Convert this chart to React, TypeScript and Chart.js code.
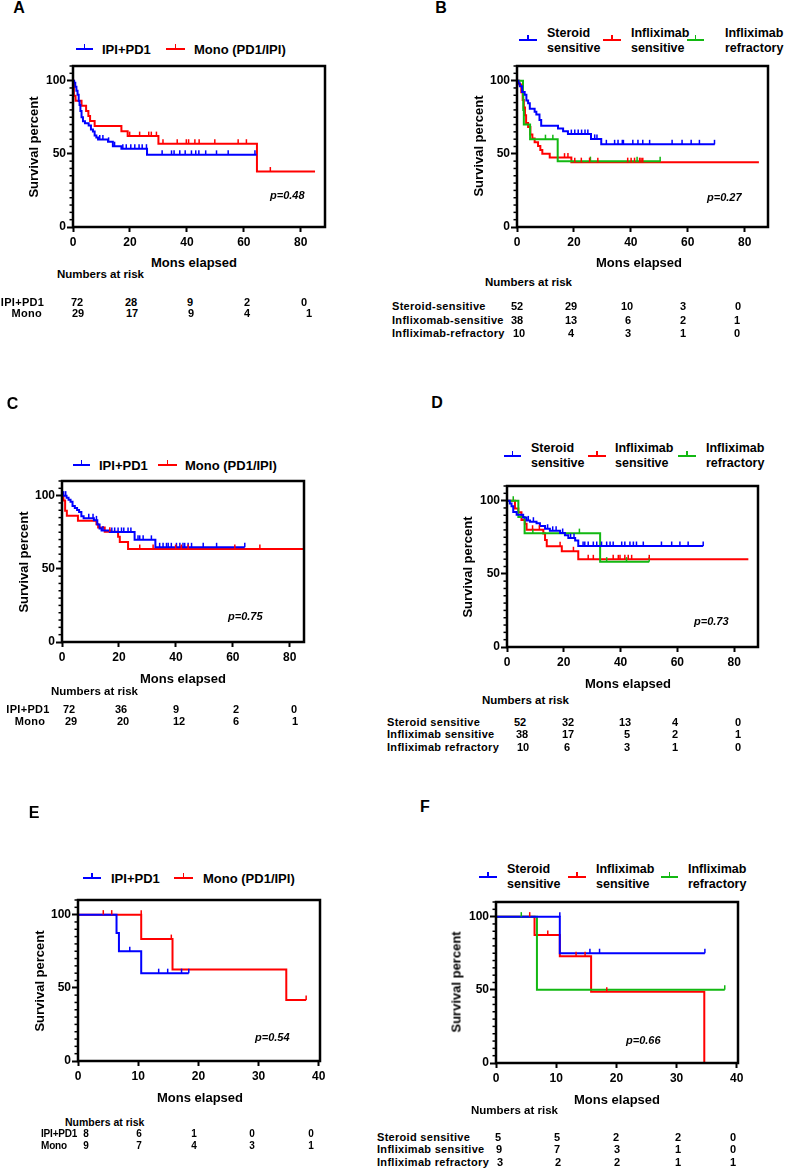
import React, { useEffect, useRef } from 'react';
import { Chart, registerables } from 'chart.js';
Chart.register(...registerables);

const FONT = '"Liberation Sans", Arial, Helvetica, sans-serif';
const BLUE = '#0000FF';
const RED = '#FF0000';
const GREEN = '#12B812';

// ---------- Panel A (all irAE, IPI+PD1 vs Mono) ----------
const aIpiT = [0, 0.4, 0.8, 1.2, 1.6, 2.0, 2.3, 2.6, 3.0, 3.5, 4.2, 5.5, 6.3, 7.0, 7.6, 8.2, 8.8, 12.3, 14.0, 17.0, 26.0, 64.5];
const aIpiS = [100, 98.6, 95.8, 93.1, 90.3, 86.1, 83.3, 79.2, 75.0, 72.2, 70.8, 69.4, 66.7, 65.3, 62.5, 61.1, 59.7, 58.2, 55.2, 53.5, 49.3, 49.3];
const aIpiC = [9.4, 10.5, 12.5, 14.6, 17.5, 18.7, 20.3, 21.7, 23.2, 24.3, 25.8, 31.3, 34.6, 35.5, 37.5, 39.4, 41.6, 43.1, 44.2, 46.6, 50.4, 54.5, 63.9];
const aMonoT = [0, 0.3, 0.9, 3.0, 4.6, 5.4, 6.0, 7.6, 17.0, 19.2, 30.0, 64.6, 85];
const aMonoS = [100, 89.7, 86.2, 82.8, 79.3, 75.9, 72.4, 69.0, 65.5, 62.1, 56.9, 37.9, 37.9];
const aMonoC = [19.9, 23.4, 26.6, 27.5, 29.3, 31.6, 36.6, 39.8, 40.6, 42.8, 44.3, 49.8, 58.0, 60.9, 69.3];
const aRiskIpi = [72, 28, 9, 2, 0];
const aRiskMono = [29, 17, 9, 4, 1];

// ---------- Panel B ----------
const bSterT = [0, 0.5, 1.0, 1.8, 2.7, 3.3, 3.9, 4.5, 6.2, 6.8, 7.9, 8.5, 14.4, 16.2, 17.9, 26.0, 29.6, 69.5];
const bSterS = [100, 98.1, 96.2, 92.3, 90.4, 86.5, 84.6, 80.8, 78.8, 76.9, 73.1, 69.2, 67.3, 65.4, 63.5, 60.2, 56.5, 56.5];
const bSterC = [19.1, 20.3, 21.5, 22.7, 23.9, 24.9, 27.3, 28.1, 31.4, 34.3, 35.5, 37.0, 37.4, 40.7, 42.5, 44.2, 46.6, 54.5, 58.0, 61.2, 64.1, 69.4];
const bInfT = [0, 0.8, 1.5, 2.0, 2.4, 2.8, 3.2, 3.9, 4.7, 5.4, 6.2, 7.4, 8.2, 8.9, 11.5, 19.1, 85];
const bInfS = [100, 97.4, 92.1, 86.8, 81.6, 76.3, 71.1, 68.4, 63.2, 60.5, 57.9, 55.3, 52.6, 50.0, 47.4, 44.3, 44.3];
const bInfC = [16.7, 17.9, 20.3, 22.6, 25.5, 28.4, 38.9, 40.1, 41.3, 43.1, 43.6, 44.2];
const bRefT = [0, 2.1, 2.2, 2.4, 4.6, 14.3, 50.5];
const bRefS = [100, 90, 80, 70, 60, 45, 45];
const bRefC = [10.0, 12.6, 25.8, 42.2, 50.3];
const bRiskSter = [52, 29, 10, 3, 0];
const bRiskInf = [38, 13, 6, 2, 1];
const bRiskRef = [10, 4, 3, 1, 0];

// ---------- Panel C ----------
const cIpiT = [0, 1.6, 2.3, 3.0, 3.7, 4.5, 5.3, 6.0, 6.8, 7.6, 11.2, 12.4, 13.2, 13.9, 16.8, 25.5, 32.8, 64.2];
const cIpiS = [100, 98.6, 97.2, 95.8, 93.0, 91.6, 90.2, 88.8, 86.0, 84.5, 83.1, 80.3, 77.5, 76.1, 75.2, 69.8, 64.7, 64.7];
const cIpiC = [0.6, 1.3, 9.4, 10.9, 12.1, 14.4, 17.5, 18.5, 19.7, 20.9, 21.7, 23.2, 24.2, 26.7, 27.3, 28.5, 31.4, 34.3, 35.5, 36.7, 37.3, 38.4, 40.2, 41.4, 42.5, 43.1, 44.3, 45.5, 49.6, 54.3, 64.2];
const cMonoT = [0, 0.5, 1.1, 1.7, 5.6, 12.1, 12.7, 15.0, 19.7, 20.3, 23.2, 85];
const cMonoS = [100, 96.6, 89.7, 86.2, 82.8, 80.5, 78.2, 75.3, 71.9, 68.4, 63.5, 63.5];
const cMonoC = [16.8, 27.3, 32.0, 39.9, 41.9, 44.3, 60.7, 69.5];
const cRiskIpi = [72, 36, 9, 2, 0];
const cRiskMono = [29, 20, 12, 6, 1];

// ---------- Panel D ----------
const dSterT = [0, 1.0, 1.6, 2.2, 3.4, 5.7, 6.9, 8.1, 10.4, 11.6, 13.4, 15.1, 18.7, 20.4, 21.6, 24.0, 25.1, 69.1];
const dSterS = [100, 98.1, 96.2, 92.3, 90.4, 88.5, 86.5, 85.6, 84.6, 82.7, 80.8, 79.4, 77.9, 76.3, 74.4, 72.8, 69.0, 69.0];
const dSterC = [7.5, 9.3, 14.3, 16.1, 17.3, 19.6, 22.4, 23.6, 26.8, 27.4, 28.6, 30.4, 31.6, 33.3, 35.1, 36.3, 37.4, 40.4, 41.5, 43.3, 44.5, 45.6, 48.0, 54.4, 58.0, 60.9, 63.8, 69.1];
const dInfT = [0, 2.8, 4.0, 5.1, 6.3, 6.9, 12.8, 13.4, 14.0, 19.3, 25.1, 85];
const dInfS = [100, 94.7, 92.1, 86.8, 84.2, 80.1, 77.5, 73.1, 68.8, 65.4, 59.9, 59.9];
const dInfC = [9.0, 11.4, 18.7, 23.4, 28.6, 30.4, 37.4, 39.2, 39.8, 41.5, 42.7, 43.9, 50.1];
const dRefT = [0, 4.0, 6.2, 32.8, 50.1];
const dRefS = [100, 88.9, 77.8, 58.3, 58.3];
const dRefC = [2.2, 9.1, 25.5, 35.1, 42.1, 50.1];
const dRiskSter = [52, 32, 13, 4, 0];
const dRiskInf = [38, 17, 5, 2, 1];
const dRiskRef = [10, 6, 3, 1, 0];

// ---------- Panel E ----------
const eIpiT = [0, 6.4, 6.8, 10.5, 18.4];
const eIpiS = [100, 87.5, 75, 60, 60];
const eIpiC = [8.6, 13.4, 14.9, 17.2, 18.4];
const eMonoT = [0, 10.5, 15.7, 34.6, 37.9];
const eMonoS = [100, 83.3, 62.5, 41.7, 41.7];
const eMonoC = [4.2, 5.6, 10.5, 15.5, 37.9];
const eRiskIpi = [8, 6, 1, 0, 0];
const eRiskMono = [9, 7, 4, 3, 1];

// ---------- Panel F ----------
const fSterT = [0, 10.6, 34.7];
const fSterS = [100, 75, 75];
const fSterC = [10.6, 15.6, 17.2, 34.7];
const fInfT = [0, 6.4, 10.6, 15.8, 34.6];
const fInfS = [100, 87.5, 72.9, 48.6, 0];
const fInfC = [5.6, 8.6, 13.3, 14.8, 18.4];
const fRefT = [0, 6.8, 38.0];
const fRefS = [100, 50, 50];
const fRefC = [4.2, 38.0];
const fRiskSter = [5, 5, 2, 2, 0];
const fRiskInf = [9, 7, 3, 1, 0];
const fRiskRef = [3, 2, 2, 1, 1];

const xTicksLong = [0, 20, 40, 60, 80];
const xTicksShort = [0, 10, 20, 30, 40];
const yTicks = [0, 50, 100];
const Y_MAX = 110;

type Series = { t: number[]; s: number[]; c: number[]; color: string };

const YW = 50, PADT = 10, PADR = 12, XH = 26;

function survAt(se: Series, t: number) {
  let v = se.s[0];
  for (let i = 0; i < se.t.length; i++) if (se.t[i] < t) v = se.s[i];
  return v;
}

function KMChart(props: { L: number; T: number; W: number; H: number; xmax: number; xticks: number[]; series: Series[] }) {
  const { L, T, W, H, xmax, xticks, series } = props;
  const ref = useRef<HTMLCanvasElement>(null);
  const cw = YW + W + PADR, ch = PADT + H + XH;
  useEffect(() => {
    const plugin = {
      id: 'km',
      afterDatasetsDraw(chart: any) {
        const { ctx, scales } = chart;
        const x = scales.x, y = scales.y;
        ctx.save();
        ctx.lineWidth = 1.5;
        series.forEach((se) => {
          ctx.strokeStyle = se.color;
          se.c.forEach((c) => {
            const px = x.getPixelForValue(c);
            const py = y.getPixelForValue(survAt(se, c));
            ctx.beginPath();
            ctx.moveTo(px, py);
            ctx.lineTo(px, py - 4.5);
            ctx.stroke();
          });
        });
        ctx.restore();
      },
      afterDraw(chart: any) {
        const { ctx, chartArea: ca, scales } = chart;
        const y = scales.y;
        ctx.save();
        ctx.strokeStyle = '#000';
        ctx.lineWidth = 1.5;
        for (let v = 5; v <= Y_MAX; v += 5) {
          if (v % 50 === 0) continue;
          const py = y.getPixelForValue(v);
          ctx.beginPath();
          ctx.moveTo(ca.left - 3.5, py);
          ctx.lineTo(ca.left, py);
          ctx.stroke();
        }
        ctx.lineWidth = 2.5;
        ctx.strokeRect(ca.left, ca.top, ca.right - ca.left, ca.bottom - ca.top);
        ctx.restore();
      },
    };
    const tickFont = { family: FONT, size: 12, weight: 'bold' as const };
    const chart = new Chart(ref.current as HTMLCanvasElement, {
      type: 'line',
      data: {
        datasets: series.map((se) => ({
          data: se.t.map((tv, i) => ({ x: tv, y: se.s[i] })),
          borderColor: se.color,
          backgroundColor: se.color,
          borderWidth: 2,
          stepped: true,
          pointRadius: 0,
          fill: false,
        })),
      },
      options: {
        responsive: false,
        animation: false,
        devicePixelRatio: 1,
        layout: { padding: { left: 0, top: PADT, right: PADR, bottom: 0 } },
        plugins: { legend: { display: false }, tooltip: { enabled: false } },
        scales: {
          x: {
            type: 'linear',
            min: 0,
            max: xmax,
            afterBuildTicks: (sc: any) => { sc.ticks = xticks.map((v) => ({ value: v })); },
            afterFit: (sc: any) => { sc.height = XH; },
            grid: { display: true, drawOnChartArea: false, drawTicks: true, tickLength: 5, tickWidth: 2, tickColor: '#000' },
            border: { display: false },
            ticks: { font: tickFont, color: '#000', padding: 3, maxRotation: 0, autoSkip: false },
          },
          y: {
            type: 'linear',
            min: 0,
            max: Y_MAX,
            afterBuildTicks: (sc: any) => { sc.ticks = yTicks.map((v) => ({ value: v })); },
            afterFit: (sc: any) => { sc.width = YW; },
            grid: { display: true, drawOnChartArea: false, drawTicks: true, tickLength: 6, tickWidth: 2, tickColor: '#000' },
            border: { display: false },
            ticks: { font: tickFont, color: '#000', padding: 1 },
          },
        },
      } as any,
      plugins: [plugin],
    });
    return () => chart.destroy();
  }, []);
  return (
    <canvas
      ref={ref}
      width={cw}
      height={ch}
      style={{ position: 'absolute', left: L - YW, top: T - PADT, width: cw, height: ch }}
    />
  );
}

type TxtProps = { x: number; y: number; text: string; size: number; align?: 'left' | 'center' | 'right'; italic?: boolean; rotate?: boolean; spacing?: number };
function Txt({ x, y, text, size, align = 'left', italic = false, rotate = false, spacing = 0 }: TxtProps) {
  const tx = align === 'center' ? '-50%' : align === 'right' ? '-100%' : '0';
  return (
    <div
      style={{
        position: 'absolute',
        left: x,
        top: y,
        transform: `translate(${tx}, -50%)` + (rotate ? ' rotate(-90deg)' : ''),
        transformOrigin: rotate ? '50% 50%' : undefined,
        font: `${italic ? 'italic ' : ''}bold ${size}px ${FONT}`,
        lineHeight: 1,
        whiteSpace: 'nowrap',
        color: '#000',
        letterSpacing: spacing,
      }}
    >
      {text}
    </div>
  );
}

function LegLine({ x1, x2, y, color }: { x1: number; x2: number; y: number; color: string }) {
  const mid = (x1 + x2) / 2;
  return (
    <>
      <div style={{ position: 'absolute', left: x1, top: y - 1, width: x2 - x1, height: 2, background: color }} />
      <div style={{ position: 'absolute', left: mid - 0.75, top: y - 5, width: 1.5, height: 4, background: color }} />
    </>
  );
}

function RiskRow({ label, lx, ly, lalign, values, xs, size, spacing }: { label: string; lx: number; ly: number; lalign: 'left' | 'center'; values: number[]; xs: number[]; size: number; spacing: number }) {
  return (
    <>
      <Txt x={lx} y={ly} text={label} size={size} align={lalign} spacing={spacing} />
      {values.map((v, i) => (
        <Txt key={i} x={xs[i]} y={ly} text={String(v)} size={size} align="center" />
      ))}
    </>
  );
}

const LEG3 = 12.5;

export default function App() {
  return (
    <div style={{ position: 'absolute', left: 0, top: 0, width: 787, height: 1168, overflow: 'hidden', background: '#fff' }}>
      {/* ---------------- A ---------------- */}
      <Txt x={19} y={8} text="A" size={16} align="center" />
      <LegLine x1={76} x2={93} y={49} color={BLUE} />
      <Txt x={102} y={49} text="IPI+PD1" size={13} />
      <LegLine x1={166} x2={185} y={49} color={RED} />
      <Txt x={194} y={49} text="Mono (PD1/IPI)" size={13} />
      <KMChart L={73} T={66} W={252} H={161} xmax={88.5} xticks={xTicksLong}
        series={[{ t: aIpiT, s: aIpiS, c: aIpiC, color: BLUE }, { t: aMonoT, s: aMonoS, c: aMonoC, color: RED }]} />
      <Txt x={33} y={147} text="Survival percent" size={13} align="center" rotate />
      <Txt x={270} y={195} text="p=0.48" size={11} italic />
      <Txt x={194} y={262} text="Mons elapsed" size={13} align="center" />
      <Txt x={57} y={275} text="Numbers at risk" size={11.5} />
      <RiskRow label="IPI+PD1" lx={22.5} ly={302} lalign="center" values={aRiskIpi} xs={[77, 131, 190, 247, 304]} size={11} spacing={0.3} />
      <RiskRow label="Mono" lx={26.7} ly={313} lalign="center" values={aRiskMono} xs={[78, 132, 191, 247, 309]} size={11} spacing={0.3} />

      {/* ---------------- B ---------------- */}
      <Txt x={441} y={8} text="B" size={16} align="center" />
      <LegLine x1={519} x2={537} y={40} color={BLUE} />
      <Txt x={547} y={33} text="Steroid" size={LEG3} />
      <Txt x={547} y={48} text="sensitive" size={LEG3} />
      <LegLine x1={603} x2={621} y={40} color={RED} />
      <Txt x={631} y={33} text="Infliximab" size={LEG3} />
      <Txt x={631} y={48} text="sensitive" size={LEG3} />
      <LegLine x1={687} x2={704} y={40} color={GREEN} />
      <Txt x={725} y={33} text="Infliximab" size={LEG3} />
      <Txt x={725} y={48} text="refractory" size={LEG3} />
      <KMChart L={517} T={66} W={251} H={161} xmax={88.2} xticks={xTicksLong}
        series={[{ t: bSterT, s: bSterS, c: bSterC, color: BLUE }, { t: bRefT, s: bRefS, c: bRefC, color: GREEN }, { t: bInfT, s: bInfS, c: bInfC, color: RED }]} />
      <Txt x={478} y={146} text="Survival percent" size={13} align="center" rotate />
      <Txt x={707} y={197} text="p=0.27" size={11} italic />
      <Txt x={639} y={262} text="Mons elapsed" size={13} align="center" />
      <Txt x={485} y={283} text="Numbers at risk" size={11.5} />
      <RiskRow label="Steroid-sensitive" lx={392} ly={306} lalign="left" values={bRiskSter} xs={[517, 571, 627, 683, 738]} size={11} spacing={0.3} />
      <RiskRow label="Inflixomab-sensitive" lx={392} ly={320} lalign="left" values={bRiskInf} xs={[517, 571, 628, 683, 737]} size={11} spacing={0.3} />
      <RiskRow label="Infliximab-refractory" lx={392} ly={333} lalign="left" values={bRiskRef} xs={[519, 571, 628, 683, 737]} size={11} spacing={0.3} />

      {/* ---------------- C ---------------- */}
      <Txt x={12.5} y={404} text="C" size={16} align="center" />
      <LegLine x1={73} x2={90} y={465} color={BLUE} />
      <Txt x={99} y={465} text="IPI+PD1" size={13} />
      <LegLine x1={158} x2={177} y={465} color={RED} />
      <Txt x={185} y={465} text="Mono (PD1/IPI)" size={13} />
      <KMChart L={62} T={481} W={242} H={161} xmax={85} xticks={xTicksLong}
        series={[{ t: cIpiT, s: cIpiS, c: cIpiC, color: BLUE }, { t: cMonoT, s: cMonoS, c: cMonoC, color: RED }]} />
      <Txt x={22.5} y={562} text="Survival percent" size={13} align="center" rotate />
      <Txt x={228} y={616} text="p=0.75" size={11} italic />
      <Txt x={183} y={678} text="Mons elapsed" size={13} align="center" />
      <Txt x={51} y={692} text="Numbers at risk" size={11.5} />
      <RiskRow label="IPI+PD1" lx={28} ly={709} lalign="center" values={cRiskIpi} xs={[69, 121, 176, 236, 294]} size={11} spacing={0.3} />
      <RiskRow label="Mono" lx={30} ly={721} lalign="center" values={cRiskMono} xs={[71, 123, 179, 236, 295]} size={11} spacing={0.3} />

      {/* ---------------- D ---------------- */}
      <Txt x={437} y={403} text="D" size={16} align="center" />
      <LegLine x1={504} x2={521} y={456} color={BLUE} />
      <Txt x={531} y={448} text="Steroid" size={LEG3} />
      <Txt x={531} y={463} text="sensitive" size={LEG3} />
      <LegLine x1={588} x2={606} y={456} color={RED} />
      <Txt x={615} y={448} text="Infliximab" size={LEG3} />
      <Txt x={615} y={463} text="sensitive" size={LEG3} />
      <LegLine x1={678} x2={696} y={456} color={GREEN} />
      <Txt x={706} y={448} text="Infliximab" size={LEG3} />
      <Txt x={706} y={463} text="refractory" size={LEG3} />
      <KMChart L={507} T={486} W={251} H={161} xmax={88.4} xticks={xTicksLong}
        series={[{ t: dSterT, s: dSterS, c: dSterC, color: BLUE }, { t: dRefT, s: dRefS, c: dRefC, color: GREEN }, { t: dInfT, s: dInfS, c: dInfC, color: RED }]} />
      <Txt x={467} y={567} text="Survival percent" size={13} align="center" rotate />
      <Txt x={694} y={621} text="p=0.73" size={11} italic />
      <Txt x={628} y={683} text="Mons elapsed" size={13} align="center" />
      <Txt x={482} y={701} text="Numbers at risk" size={11.5} />
      <RiskRow label="Steroid sensitive" lx={387} ly={722} lalign="left" values={dRiskSter} xs={[520, 568, 625, 675, 738]} size={11} spacing={0.3} />
      <RiskRow label="Infliximab sensitive" lx={387} ly={734} lalign="left" values={dRiskInf} xs={[522, 568, 627, 675, 738]} size={11} spacing={0.3} />
      <RiskRow label="Infliximab refractory" lx={387} ly={747} lalign="left" values={dRiskRef} xs={[523, 567, 627, 675, 738]} size={11} spacing={0.3} />

      {/* ---------------- E ---------------- */}
      <Txt x={34} y={813} text="E" size={16} align="center" />
      <LegLine x1={83} x2={101} y={878} color={BLUE} />
      <Txt x={111} y={878} text="IPI+PD1" size={13} />
      <LegLine x1={174} x2={193} y={878} color={RED} />
      <Txt x={203} y={878} text="Mono (PD1/IPI)" size={13} />
      <KMChart L={78} T={900} W={242} H={161} xmax={40.2} xticks={xTicksShort}
        series={[{ t: eIpiT, s: eIpiS, c: eIpiC, color: BLUE }, { t: eMonoT, s: eMonoS, c: eMonoC, color: RED }]} />
      <Txt x={39} y={981} text="Survival percent" size={13} align="center" rotate />
      <Txt x={255} y={1037} text="p=0.54" size={11} italic />
      <Txt x={200} y={1097} text="Mons elapsed" size={13} align="center" />
      <Txt x={65} y={1122} text="Numbers at risk" size={10.5} />
      <RiskRow label="IPI+PD1" lx={41} ly={1134} lalign="left" values={eRiskIpi} xs={[86, 139, 194, 252, 311]} size={10} spacing={-0.2} />
      <RiskRow label="Mono" lx={41} ly={1146} lalign="left" values={eRiskMono} xs={[86, 139, 194, 252, 311]} size={10} spacing={-0.2} />

      {/* ---------------- F ---------------- */}
      <Txt x={425} y={807} text="F" size={16} align="center" />
      <LegLine x1={479} x2={497} y={877} color={BLUE} />
      <Txt x={507} y={869} text="Steroid" size={LEG3} />
      <Txt x={507} y={884} text="sensitive" size={LEG3} />
      <LegLine x1={568} x2={586} y={877} color={RED} />
      <Txt x={596} y={869} text="Infliximab" size={LEG3} />
      <Txt x={596} y={884} text="sensitive" size={LEG3} />
      <LegLine x1={661} x2={678} y={877} color={GREEN} />
      <Txt x={688} y={869} text="Infliximab" size={LEG3} />
      <Txt x={688} y={884} text="refractory" size={LEG3} />
      <KMChart L={496} T={902} W={242} H={161} xmax={40.2} xticks={xTicksShort}
        series={[{ t: fSterT, s: fSterS, c: fSterC, color: BLUE }, { t: fRefT, s: fRefS, c: fRefC, color: GREEN }, { t: fInfT, s: fInfS, c: fInfC, color: RED }]} />
      <Txt x={456} y={982} text="Survival percent" size={13} align="center" rotate />
      <Txt x={626} y={1040} text="p=0.66" size={11} italic />
      <Txt x={617} y={1099} text="Mons elapsed" size={13} align="center" />
      <Txt x={471} y={1111} text="Numbers at risk" size={11.5} />
      <RiskRow label="Steroid sensitive" lx={377} ly={1137} lalign="left" values={fRiskSter} xs={[498, 557, 616, 678, 733]} size={11} spacing={0.3} />
      <RiskRow label="Infliximab sensitive" lx={377} ly={1149} lalign="left" values={fRiskInf} xs={[499, 557, 617, 678, 733]} size={11} spacing={0.3} />
      <RiskRow label="Infliximab refractory" lx={377} ly={1162} lalign="left" values={fRiskRef} xs={[500, 558, 617, 678, 733]} size={11} spacing={0.3} />
    </div>
  );
}
